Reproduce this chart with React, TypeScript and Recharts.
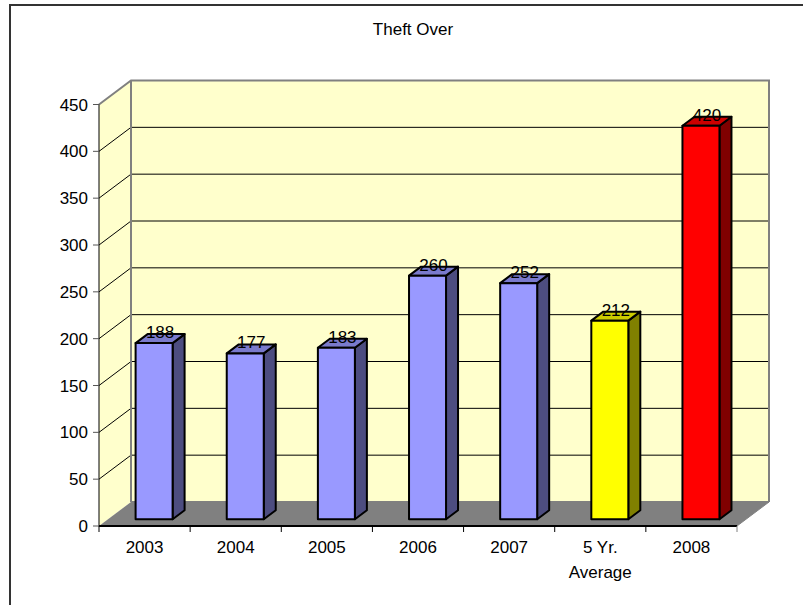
import { BarChart, Bar, XAxis, YAxis, CartesianGrid, LabelList, Customized } from 'recharts';

const CATEGORIES = ['2003', '2004', '2005', '2006', '2007', '5 Yr. Average', '2008'];
const VALUES = [188, 177, 183, 260, 252, 212, 420];
const Y_TICKS = [0, 50, 100, 150, 200, 250, 300, 350, 400, 450];

// front / side / top face colours for each bar
const FRONT = ['#9999FF', '#9999FF', '#9999FF', '#9999FF', '#9999FF', '#FFFF00', '#FF0000'];
const SIDE = ['#4D4D80', '#4D4D80', '#4D4D80', '#4D4D80', '#4D4D80', '#808000', '#800000'];
const TOP = ['#7A7ACC', '#7A7ACC', '#7A7ACC', '#7A7ACC', '#7A7ACC', '#CCCC00', '#CC0000'];

const data = CATEGORIES.map((name, i) => ({ name, value: VALUES[i] }));

const FONT = '"Liberation Sans", Arial, sans-serif';
const WIDTH = 803;
const HEIGHT = 605;
const PLOT = { left: 99, right: 737, top: 104.5, bottom: 526 };
const BAND = (PLOT.right - PLOT.left) / CATEGORIES.length;

// depth of the fake 3D box and of each bar
const DEPTH_X = 32;
const DEPTH_Y = 24;
const BAR_DX = 12;
const BAR_DY = 9;
const BAR_SHIFT_X = 9.6;
const BAR_SHIFT_Y = 6.8;

const pts = (list: number[][]) => list.map((p) => p.join(',')).join(' ');

const Backdrop = () => {
  const { left, right, top, bottom } = PLOT;
  return (
    <g>
      <polygon
        points={pts([[left, top], [left + DEPTH_X, top - DEPTH_Y], [left + DEPTH_X, bottom - DEPTH_Y], [left, bottom]])}
        fill="#FFFFCC"
      />
      <rect x={left + DEPTH_X} y={top - DEPTH_Y} width={right - left} height={bottom - top} fill="#FFFFCC" />
      <polygon
        points={pts([[left, bottom], [left + DEPTH_X, bottom - DEPTH_Y], [right + DEPTH_X, bottom - DEPTH_Y], [right, bottom]])}
        fill="#808080"
      />
    </g>
  );
};

const BackEdges = () => {
  const { left, right, top, bottom } = PLOT;
  return (
    <g fill="none" stroke="#808080" strokeWidth={2}>
      <polyline
        points={pts([
          [left, top],
          [left + DEPTH_X, top - DEPTH_Y],
          [right + DEPTH_X, top - DEPTH_Y],
          [right + DEPTH_X, bottom - DEPTH_Y],
        ])}
      />
      <line x1={left + DEPTH_X} y1={top - DEPTH_Y} x2={left + DEPTH_X} y2={bottom - DEPTH_Y} />
      <line x1={left + DEPTH_X} y1={bottom - DEPTH_Y} x2={right + DEPTH_X} y2={bottom - DEPTH_Y} />
      <line x1={right} y1={bottom} x2={right + DEPTH_X} y2={bottom - DEPTH_Y} strokeWidth={1} />
    </g>
  );
};

// the grid sits in the lowest layer, so the walls are painted with its first line
const GridLine = ({ x1, x2, y1, index }: any) => {
  const skip = y1 >= PLOT.bottom - 1 || y1 <= PLOT.top + 1;
  return (
    <g>
      {index === 0 && <Backdrop />}
      {!skip && (
        <polyline
          points={pts([[x1, y1], [x1 + DEPTH_X, y1 - DEPTH_Y], [x2 + DEPTH_X, y1 - DEPTH_Y]])}
          fill="none"
          stroke="#000"
          strokeWidth={1}
        />
      )}
    </g>
  );
};

const Bar3D = ({ x, y, width, height, index }: any) => {
  const x0 = x + BAR_SHIFT_X;
  const x1 = x0 + width;
  const y0 = y - BAR_SHIFT_Y;
  const y1 = y0 + height;
  return (
    <g stroke="#000" strokeWidth={2} strokeLinejoin="round">
      <polygon
        points={pts([[x1, y0], [x1 + BAR_DX, y0 - BAR_DY], [x1 + BAR_DX, y1 - BAR_DY], [x1, y1]])}
        fill={SIDE[index]}
      />
      <polygon
        points={pts([[x0, y0], [x0 + BAR_DX, y0 - BAR_DY], [x1 + BAR_DX, y0 - BAR_DY], [x1, y0]])}
        fill={TOP[index]}
      />
      <rect x={x0} y={y0} width={width} height={height} fill={FRONT[index]} />
    </g>
  );
};

const BarValue = ({ x, y, width, value }: any) => (
  <text
    x={x + BAR_SHIFT_X + width / 2 + BAR_DX / 2}
    y={y - BAR_SHIFT_Y - 5}
    textAnchor="middle"
    fontFamily={FONT}
    fontSize={17}
    fill="#000"
  >
    {value}
  </text>
);

const CategoryTick = ({ x, payload, index }: any) => {
  const words = String(payload.value).split(' ');
  const lines = words.length > 2 ? [words.slice(0, 2).join(' '), words[2]] : [payload.value];
  const last = index === CATEGORIES.length - 1;
  return (
    <g>
      <line x1={x - BAND / 2} y1={PLOT.bottom} x2={x - BAND / 2} y2={PLOT.bottom + 6} stroke="#000" />
      {last && <line x1={x + BAND / 2} y1={PLOT.bottom} x2={x + BAND / 2} y2={PLOT.bottom + 6} stroke="#808080" />}
      {lines.map((line: string, i: number) => (
        <text key={line} x={x} y={553 + i * 25} textAnchor="middle" fontFamily={FONT} fontSize={17} fill="#000">
          {line}
        </text>
      ))}
    </g>
  );
};

export default function App() {
  return (
    <div style={{ position: 'absolute', left: 0, top: 0, width: WIDTH, height: HEIGHT, overflow: 'hidden', background: '#fff' }}>
      <div
        style={{
          position: 'absolute',
          left: 9,
          top: 4,
          width: WIDTH,
          height: HEIGHT,
          borderLeft: '2px solid #333',
          borderTop: '2px solid #333',
        }}
      />
      <div
        style={{
          position: 'absolute',
          left: 0,
          top: 20,
          width: 826,
          textAlign: 'center',
          fontFamily: FONT,
          fontSize: 17,
          color: '#000',
        }}
      >
        Theft Over
      </div>
      <div style={{ position: 'absolute', left: 0, top: 0 }}>
        <BarChart
          width={WIDTH}
          height={HEIGHT}
          data={data}
          barSize={37}
          margin={{ left: 0, right: WIDTH - PLOT.right, top: PLOT.top, bottom: 0 }}
        >
          <CartesianGrid vertical={false} horizontal={GridLine as any} />
          <Customized component={BackEdges} />
          <XAxis
            dataKey="name"
            interval={0}
            axisLine={{ stroke: '#000', strokeWidth: 2 }}
            tickLine={false}
            tick={CategoryTick as any}
            height={HEIGHT - PLOT.bottom}
          />
          <YAxis
            domain={[0, 450]}
            ticks={Y_TICKS}
            interval={0}
            width={PLOT.left}
            axisLine={{ stroke: '#000' }}
            tickLine={{ stroke: '#555' }}
            tickSize={6}
            tickMargin={5}
            tick={{ fontFamily: FONT, fontSize: 17, fill: '#000' }}
          />
          <Bar dataKey="value" isAnimationActive={false} shape={Bar3D as any}>
            <LabelList dataKey="value" content={BarValue as any} />
          </Bar>
        </BarChart>
      </div>
    </div>
  );
}
